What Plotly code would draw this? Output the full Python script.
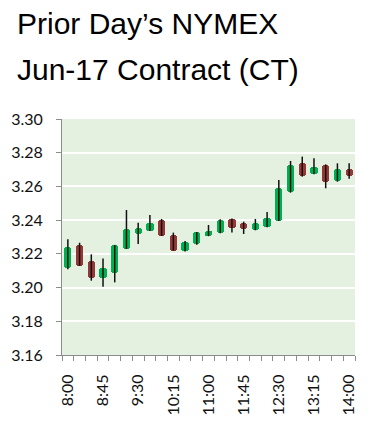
import plotly.graph_objects as go

times = ["8:00","8:15","8:30","8:45","9:00","9:15","9:30","9:45","10:00","10:15","10:30","10:45",
         "11:00","11:15","11:30","11:45","12:00","12:15","12:30","12:45","13:00","13:15","13:30","13:45","14:00"]
opens  = [3.2114,3.2253,3.2158,3.2055,3.2088,3.2229,3.2316,3.2336,3.2401,3.2312,3.2219,3.2256,
          3.2308,3.2326,3.2407,3.2381,3.2342,3.2361,3.2397,3.2565,3.2737,3.2674,3.2727,3.2630,3.2701]
highs  = [3.2286,3.2266,3.2197,3.2173,3.2253,3.2460,3.2385,3.2430,3.2407,3.2326,3.2276,3.2330,
          3.2371,3.2405,3.2410,3.2391,3.2407,3.2448,3.2638,3.2751,3.2777,3.2767,3.2731,3.2737,3.2737]
lows   = [3.2108,3.2128,3.2041,3.2005,3.2031,3.2229,3.2258,3.2336,3.2306,3.2219,3.2214,3.2254,
          3.2305,3.2322,3.2326,3.2318,3.2340,3.2358,3.2395,3.2563,3.2658,3.2672,3.2589,3.2628,3.2646]
closes = [3.2243,3.2130,3.2055,3.2114,3.2253,3.2347,3.2355,3.2381,3.2306,3.2219,3.2272,3.2328,
          3.2338,3.2401,3.2351,3.2345,3.2381,3.2415,3.2589,3.2725,3.2662,3.2717,3.2628,3.2701,3.2662]
y_ticks = [3.16, 3.18, 3.20, 3.22, 3.24, 3.26, 3.28, 3.30]

UP = "#00b050"
DOWN = "#953735"

idx = list(range(len(times)))

wx, wy = [], []
for i, h, l in zip(idx, highs, lows):
    wx += [i, i, None]
    wy += [l, h, None]

fig = go.Figure()
fig.add_trace(go.Scatter(x=wx, y=wy, mode="lines", line=dict(color="#111111", width=1.5),
                         hoverinfo="skip", showlegend=False))
fig.add_trace(go.Bar(
    x=idx,
    base=[min(o, c) for o, c in zip(opens, closes)],
    y=[abs(c - o) for o, c in zip(opens, closes)],
    marker=dict(color=[UP if c >= o else DOWN for o, c in zip(opens, closes)],
                cornerradius=3, line=dict(width=0)),
    width=0.62, showlegend=False))

lab_vals = idx[::3]
lab_text = times[::3]

PW = 293.0
fig.update_layout(
    width=375, height=436,
    margin=dict(l=54, r=28, t=111, b=89),
    paper_bgcolor="white",
    plot_bgcolor="#e4f0e0",
    bargap=0,
    font=dict(family="Lato", size=16, color="#111"),
    annotations=[
        dict(text="Prior Day\u2019s NYMEX", xref="paper", yref="paper", x=-47.3 / PW, y=1,
             xanchor="left", yanchor="middle", yshift=96, showarrow=False,
             font=dict(family="Liberation Sans", size=30, color="black")),
        dict(text="Jun-17 Contract (CT)", xref="paper", yref="paper", x=-47.3 / PW, y=1,
             xanchor="left", yanchor="middle", yshift=50, showarrow=False,
             font=dict(family="Liberation Sans", size=30, color="black")),
    ],
)
fig.update_xaxes(
    range=[-0.5, 24.5], tickmode="array", tickvals=lab_vals, ticktext=lab_text,
    tickangle=-90, ticks="", ticklabelstandoff=12, showgrid=False, zeroline=False,
    showline=True, linecolor="#8c8c8c", linewidth=1, automargin=False,
    minor=dict(tickmode="array", tickvals=[i - 0.5 for i in range(len(times) + 1)],
               ticks="outside", ticklen=5, tickcolor="#8c8c8c", showgrid=False),
    fixedrange=True,
)
fig.update_yaxes(
    range=[3.16, 3.30], tickmode="array", tickvals=y_ticks,
    ticktext=[f"{v:.2f}" for v in y_ticks],
    ticks="outside", ticklen=5, tickcolor="#8c8c8c", automargin=False,
    showgrid=True, gridcolor="white", gridwidth=2, zeroline=False,
    showline=True, linecolor="#8c8c8c", linewidth=1, ticklabelstandoff=10,
)

fig.write_html("out.html")
